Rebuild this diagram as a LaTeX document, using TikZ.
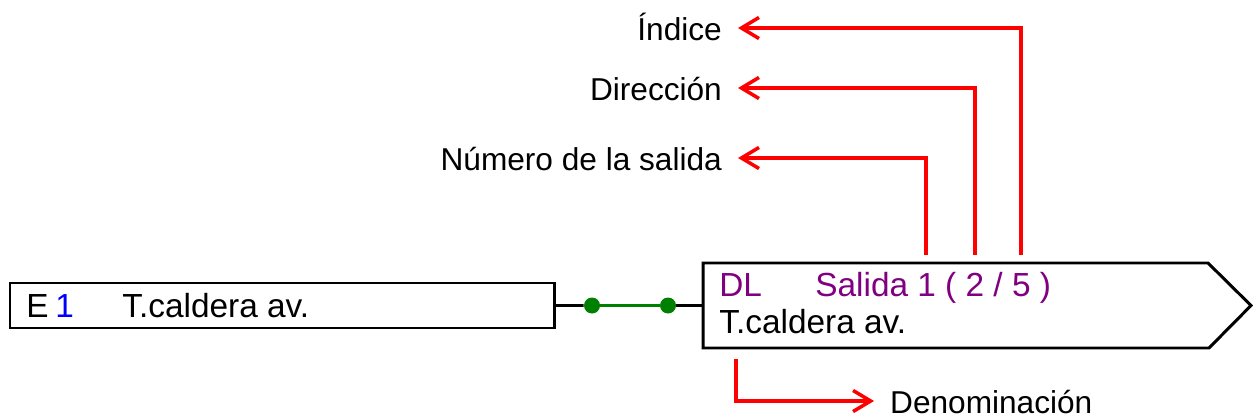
\documentclass[tikz,border=0pt]{standalone}
\usepackage{fontspec}
\setmainfont{Liberation Sans}
\usetikzlibrary{arrows.meta}
\definecolor{lila}{RGB}{128,0,128}
\definecolor{gruen}{RGB}{0,128,0}

\begin{document}
\begin{tikzpicture}[x=0.02cm, y=-0.02cm, font=\fontsize{19}{22.8}\selectfont,
    blk/.style={draw, line width=1.7pt},
    txt/.style={inner sep=0pt, anchor=base west},
    lbl/.style={font=\fontsize{18}{21.6}\selectfont, inner xsep=9pt, inner ysep=0pt, text height=14.4pt, text depth=0pt},
    punkt/.style={circle, fill=gruen, inner sep=0pt, minimum size=0.32cm},
    pfeil/.style={red, line width=2pt, -{Straight Barb[length=10pt, width=12pt]}}]
    \useasboundingbox (0,0) rectangle (1253,419);
    \node [blk, anchor=north west, inner sep=0pt, outer sep=0pt, minimum width=10.9cm, minimum height=0.9cm] (ein) at (10,283) {};
    \node [txt] (e) at (26,317) {E};
    \node [txt, text=blue] (enr) at (55,317) {1};
    \node [txt] (ename) at (122,317) {T.caldera av.};
    \draw [blk, line join=miter] (703,263) -- (1208,263) -- (1251,305.5) -- (1209,348) -- (703,348) -- cycle;
    \coordinate (aus) at (703,305.5);
    \node [txt, text=lila] (dl) at (719,296) {DL};
    \node [txt, text=lila] (sal) at (815,296) {Salida 1 ( 2 / 5 )};
    \node [txt] (aname) at (719,333) {T.caldera av.};
    \node [punkt] (p1) at (592,305.5) {};
    \node [punkt] (p2) at (668,305.5) {};
    \draw [line width=1.7pt] (ein.east) -- (p1);
    \draw [gruen, line width=1.7pt] (p1) -- (p2);
    \draw [line width=1.7pt] (p2) -- (aus);
    \node [lbl, anchor=east] (indice) at (738,28) {Índice};
    \node [lbl, anchor=east] (dir) at (738,88) {Dirección};
    \node [lbl, anchor=east] (nummer) at (738,158) {Número de la salida};
    \node [lbl, anchor=west] (denom) at (874,401) {Denominación};
    \coordinate (s1) at (926,255);
    \coordinate (s2) at (975,255);
    \coordinate (s3) at (1021,255);
    \coordinate (s4) at (736,359);
    \draw [pfeil] (s1) |- (nummer);
    \draw [pfeil] (s2) |- (dir);
    \draw [pfeil] (s3) |- (indice);
    \draw [pfeil] (s4) |- (denom);
\end{tikzpicture}
\end{document}
